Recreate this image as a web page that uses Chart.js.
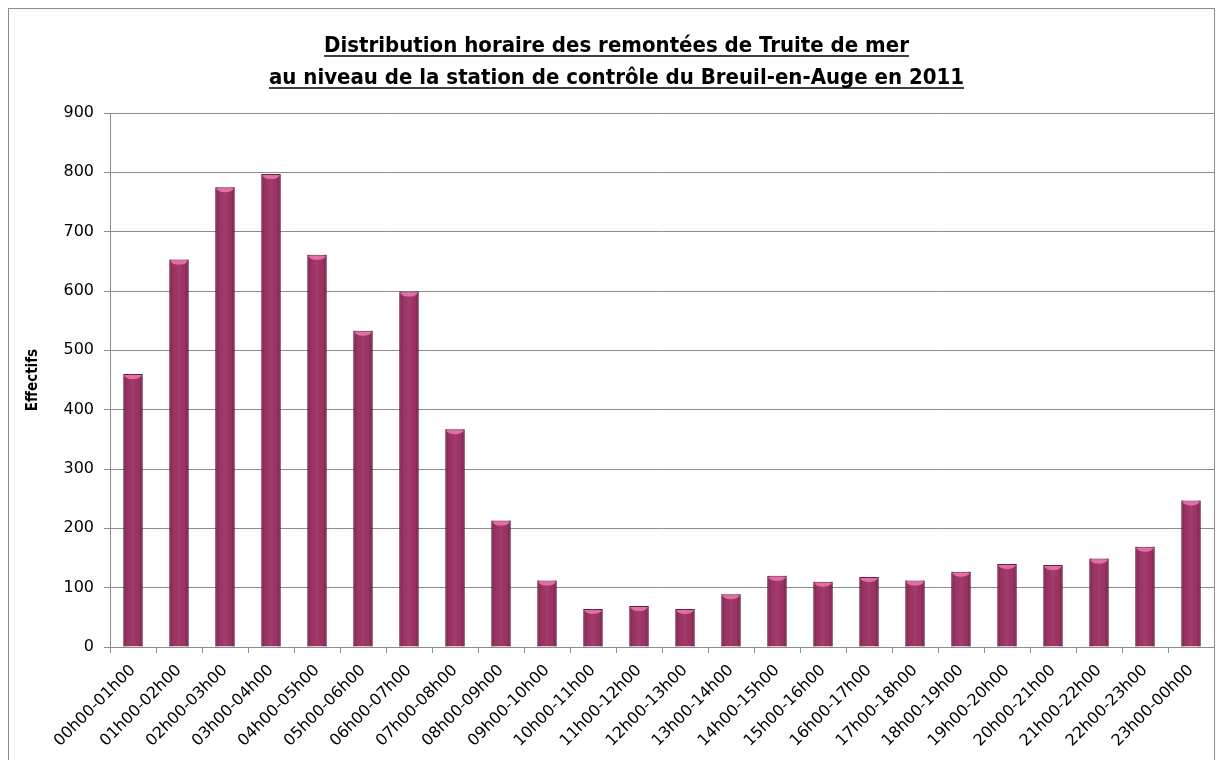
<!DOCTYPE html>
<html>
<head>
<meta charset="utf-8">
<script src="https://cdn.jsdelivr.net/npm/chart.js@4/dist/chart.umd.min.js"></script>
<style>
  html, body { margin: 0; padding: 0; background: #fff; }
  #wrap { position: relative; width: 1223px; height: 760px; }
</style>
</head>
<body>
<div id="wrap"><canvas id="chart" width="1223" height="760"></canvas></div>
<script>
// Distribution horaire des remontées de Truite de mer - Breuil-en-Auge 2011

const titleLines = [
  'Distribution horaire des remontées de Truite de mer',
  'au niveau de la station de contrôle du Breuil-en-Auge en 2011'
];
const hours = [
  '00h00-01h00', '01h00-02h00', '02h00-03h00', '03h00-04h00', '04h00-05h00', '05h00-06h00',
  '06h00-07h00', '07h00-08h00', '08h00-09h00', '09h00-10h00', '10h00-11h00', '11h00-12h00',
  '12h00-13h00', '13h00-14h00', '14h00-15h00', '15h00-16h00', '16h00-17h00', '17h00-18h00',
  '18h00-19h00', '19h00-20h00', '20h00-21h00', '21h00-22h00', '22h00-23h00', '23h00-00h00'
];
const effectifs = [460, 653, 775, 797, 661, 533, 599, 367, 213, 112, 64, 69,
                   64, 89, 120, 110, 118, 112, 127, 140, 138, 149, 169, 247];
const yMin = 0;
const yMax = 900;
const yStep = 100;

const TICK_FONT = "'DejaVu Sans', sans-serif";
const TITLE_FONT = "'Liberation Sans Narrow', 'DejaVu Sans Condensed', sans-serif";

// cadre gris autour du graphique (comme la zone de graphique Excel)
const frame = {
  id: 'frame',
  beforeDraw(chart) {
    const ctx = chart.ctx;
    ctx.save();
    ctx.fillStyle = '#fff';
    ctx.fillRect(0, 0, chart.width, chart.height);
    ctx.strokeStyle = '#8c8c8c';
    ctx.lineWidth = 1;
    ctx.strokeRect(8.5, 8.5, chart.width - 17, chart.height + 20);
    ctx.restore();
  }
};

// titre souligné sur deux lignes
const underlinedTitle = {
  id: 'underlinedTitle',
  afterDraw(chart) {
    const ctx = chart.ctx;
    const cx = chart.width / 2 + 5;
    ctx.save();
    ctx.font = 'bold 22px ' + TITLE_FONT;
    ctx.fillStyle = '#000';
    ctx.strokeStyle = '#000';
    ctx.lineWidth = 1.5;
    ctx.textAlign = 'center';
    ctx.textBaseline = 'alphabetic';
    titleLines.forEach((t, i) => {
      const y = 52 + i * 32;
      ctx.fillText(t, cx, y);
      const w = ctx.measureText(t).width;
      ctx.beginPath();
      ctx.moveTo(cx - w / 2, y + 4);
      ctx.lineTo(cx + w / 2, y + 4);
      ctx.stroke();
    });
    ctx.restore();
  }
};

// effet "cylindre" des barres : bords sombres + reflet rose en haut
const barShine = {
  id: 'barShine',
  afterDatasetsDraw(chart) {
    const ctx = chart.ctx;
    const meta = chart.getDatasetMeta(0);
    ctx.save();
    meta.data.forEach(el => {
      const p = el.getProps(['x', 'y', 'width', 'base'], true);
      const left = p.x - p.width / 2;
      const right = p.x + p.width / 2;
      const g = ctx.createLinearGradient(left, 0, right, 0);
      g.addColorStop(0, 'rgba(70,10,40,0.5)');
      g.addColorStop(0.2, 'rgba(70,10,40,0)');
      g.addColorStop(0.5, 'rgba(255,255,255,0.06)');
      g.addColorStop(0.8, 'rgba(70,10,40,0)');
      g.addColorStop(1, 'rgba(70,10,40,0.55)');
      ctx.fillStyle = g;
      ctx.fillRect(left, p.y, p.width, p.base - p.y);

      ctx.beginPath();
      ctx.moveTo(left + 1, p.y + 1);
      ctx.lineTo(right - 1, p.y + 1);
      ctx.ellipse(p.x, p.y + 1, p.width / 2 - 1, 4, 0, 0, Math.PI);
      ctx.closePath();
      ctx.fillStyle = 'rgba(235,115,172,0.9)';
      ctx.fill();
    });
    ctx.restore();
  }
};

new Chart(document.getElementById('chart'), {
  type: 'bar',
  data: {
    labels: hours,
    datasets: [{
      label: 'Effectifs',
      data: effectifs,
      backgroundColor: '#9c3365',
      borderColor: '#6b1d45',
      borderWidth: 1,
      categoryPercentage: 1,
      barPercentage: 0.42
    }]
  },
  options: {
    responsive: false,
    animation: false,
    devicePixelRatio: 1,
    layout: { padding: { top: 113, right: 9, bottom: 0, left: 0 } },
    plugins: {
      legend: { display: false },
      title: { display: false },
      tooltip: { enabled: false }
    },
    scales: {
      x: {
        afterFit: s => { s.height = 113; },
        grid: { display: true, drawOnChartArea: false, drawTicks: true, tickLength: 6, offset: true, color: '#8c8c8c' },
        border: { color: '#8c8c8c', width: 1 },
        ticks: {
          color: '#000',
          font: { family: TICK_FONT, size: 16 },
          maxRotation: 45,
          minRotation: 45,
          autoSkip: false,
          padding: 8
        }
      },
      y: {
        min: yMin,
        max: yMax,
        afterFit: s => { s.width = 110; },
        grid: { color: '#8c8c8c', tickLength: 6 },
        border: { color: '#8c8c8c', width: 1 },
        ticks: {
          stepSize: yStep,
          color: '#000',
          font: { family: TICK_FONT, size: 16 },
          padding: 10
        },
        title: {
          display: true,
          text: 'Effectifs',
          color: '#000',
          font: { family: TITLE_FONT, size: 15, weight: 'bold' },
          padding: { top: 24, bottom: 0 }
        }
      }
    }
  },
  plugins: [frame, underlinedTitle, barShine]
});
</script>
</body>
</html>
